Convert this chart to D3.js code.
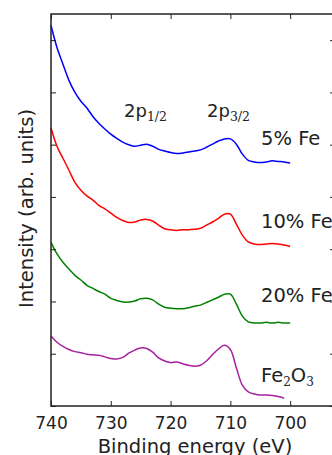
<!DOCTYPE html>
<html>
<head>
<meta charset="utf-8">
<script src="https://cdn.jsdelivr.net/npm/d3@7"></script>
<style>
  body { margin: 0; background: #fff; }
  text { font-family: "DejaVu Sans", sans-serif; fill: #222; }
</style>
</head>
<body>
<div id="chart"></div>
<script>
// binding energy (eV), 1 eV steps from 740 down
let energies = d3.range(740, 699, -1);
let energiesFe2O3 = d3.range(740, 700, -1);

// intensities (arb. units), already offset for stacking
let fe5 = [728, 686, 654, 623, 600, 583, 570, 554, 541, 530, 520, 512, 505, 500, 497, 499, 501, 497, 491, 488,
  485, 483, 484, 486, 488, 490, 495, 501, 507, 511, 511, 501, 482, 470, 467, 466, 467, 469, 468, 467, 465];
let fe10 = [532, 497, 474, 451, 428, 413, 402, 394, 384, 377, 369, 361, 355, 351, 352, 356, 357, 354, 346, 339,
  337, 336, 337, 337, 338, 340, 346, 352, 359, 367, 367, 348, 327, 314, 310, 309, 310, 311, 310, 308, 305];
let fe20 = [313, 291, 275, 262, 250, 241, 231, 225, 219, 214, 206, 202, 199, 199, 201, 205, 206, 203, 195, 189,
  187, 186, 186, 188, 191, 193, 198, 203, 208, 214, 214, 195, 172, 161, 159, 159, 160, 159, 160, 159, 159];
let fe2o3 = [134, 122, 114, 108, 104, 102, 99, 98, 97, 94, 91, 90, 93, 101, 107, 111, 110, 103, 92, 86,
  83, 84, 81, 78, 76, 78, 86, 98, 109, 116, 108, 73, 40, 27, 23, 21, 21, 20, 18, 15];

let xTicks = [740, 730, 720, 710, 700];
let yTicks = [0, 100, 200, 300, 400, 500, 600, 700];

let series = [
  { name: "5% Fe", x: energies, y: fe5, color: "#0000ff" },
  { name: "10% Fe", x: energies, y: fe10, color: "#ff0000" },
  { name: "20% Fe", x: energies, y: fe20, color: "#008000" },
  { name: "Fe2O3", x: energiesFe2O3, y: fe2o3, color: "#a8209f" }
];

let svgWidth = 332;
let svgHeight = 455;
let margin = { top: 14, right: -3, bottom: 49, left: 51 };
let chartWidth = svgWidth - margin.left - margin.right;
let chartHeight = svgHeight - margin.top - margin.bottom;

let svg = d3.select("#chart")
  .append("svg")
  .attr("width", svgWidth)
  .attr("height", svgHeight);

let chartGroup = svg.append("g")
  .attr("transform", `translate(${margin.left},${margin.top})`);

let xScale = d3.scaleLinear()
  .domain([740, 692.5])
  .range([0, chartWidth]);

let yScale = d3.scaleLinear()
  .domain([0, 750])
  .range([chartHeight, 0]);

let line = d3.line()
  .curve(d3.curveCatmullRom)
  .x(d => xScale(d[0]))
  .y(d => yScale(d[1]));

series.forEach(s => {
  chartGroup.append("path")
    .datum(s.x.map((e, i) => [e, s.y[i]]))
    .attr("fill", "none")
    .attr("stroke", s.color)
    .attr("stroke-width", 1.5)
    .attr("stroke-linejoin", "round")
    .attr("d", line);
});

// axes: ticks pointing inward on all four sides, labels only at bottom
let tickLen = 5;
chartGroup.append("g")
  .attr("transform", `translate(0,${chartHeight})`)
  .call(d3.axisBottom(xScale).tickValues(xTicks).tickSize(-tickLen).tickPadding(11).tickFormat(d3.format("d")))
  .call(g => g.selectAll("text").style("font-size", "17px").attr("fill", "#222"));
chartGroup.append("g")
  .call(d3.axisTop(xScale).tickValues(xTicks).tickSize(-tickLen).tickFormat(""));
chartGroup.append("g")
  .call(d3.axisLeft(yScale).tickValues(yTicks).tickSize(-tickLen).tickFormat(""));
chartGroup.append("g")
  .attr("transform", `translate(${chartWidth},0)`)
  .call(d3.axisRight(yScale).tickValues(yTicks).tickSize(-tickLen).tickFormat(""));

chartGroup.selectAll(".domain").remove();
chartGroup.selectAll(".tick line").attr("stroke", "#222").attr("stroke-width", 1);
chartGroup.append("rect")
  .attr("width", chartWidth)
  .attr("height", chartHeight)
  .attr("fill", "none")
  .attr("stroke", "#222")
  .attr("stroke-width", 1.5);

// axis titles
svg.append("text")
  .attr("x", 195)
  .attr("y", 453)
  .attr("text-anchor", "middle")
  .style("font-size", "19.5px")
  .text("Binding energy (eV)");

svg.append("text")
  .attr("transform", "translate(33,208.5) rotate(-90)")
  .attr("text-anchor", "middle")
  .style("font-size", "19.5px")
  .text("Intensity (arb. units)");

// peak annotations
function peakLabel(x, y, sub) {
  let t = svg.append("text").attr("x", x).attr("y", y).style("font-size", "18px");
  t.append("tspan").text("2p");
  t.append("tspan")
    .attr("dy", 4)
    .style("font-size", "12.5px")
    .style("font-family", "'DejaVu Serif', serif")
    .text(sub);
}
peakLabel(124, 117, "1/2");
peakLabel(207, 117, "3/2");

// series labels
let labelX = 261;
let labelSize = "19.5px";
svg.append("text").attr("x", labelX).attr("y", 145).style("font-size", labelSize).text("5% Fe");
svg.append("text").attr("x", labelX).attr("y", 228).style("font-size", labelSize).text("10% Fe");
svg.append("text").attr("x", labelX).attr("y", 302).style("font-size", labelSize).text("20% Fe");
let oxide = svg.append("text").attr("x", labelX).attr("y", 382).style("font-size", labelSize);
oxide.append("tspan").text("Fe");
oxide.append("tspan").attr("dy", 4).style("font-size", "12px").style("font-family", "'DejaVu Serif', serif").text("2");
oxide.append("tspan").attr("dy", -4).text("O");
oxide.append("tspan").attr("dy", 4).style("font-size", "12px").style("font-family", "'DejaVu Serif', serif").text("3");
</script>
</body>
</html>
